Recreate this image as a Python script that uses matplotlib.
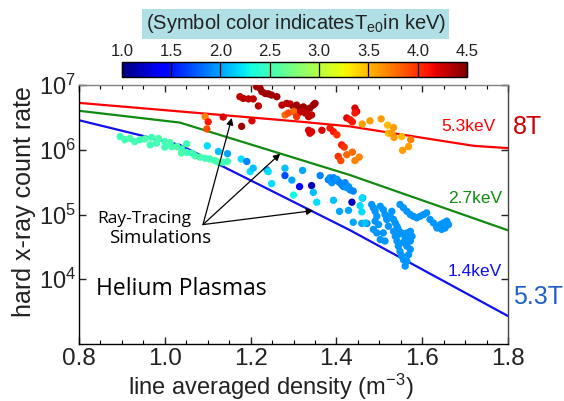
import numpy as np
import matplotlib
matplotlib.use("Agg")
import matplotlib.pyplot as plt
from matplotlib.ticker import MultipleLocator

plt.rcParams['font.family'] = ['Liberation Sans', 'DejaVu Sans']
plt.rcParams['mathtext.fontset'] = 'custom'
plt.rcParams['mathtext.rm'] = 'Liberation Sans'
plt.rcParams['mathtext.it'] = 'Liberation Sans:italic'

# ray-tracing simulation curves (density, count rate)
red_n = [0.8, 1.32, 1.43, 1.72, 1.8]
red_rate = [5.3e6, 2.7e6, 2.3e6, 1.15e6, 1.06e6]
green_n = [0.8, 1.035, 1.43, 1.8]
green_rate = [4.0e6, 2.63e6, 4.1e5, 5.7e4]
blue_n = [0.8, 1.035, 1.43, 1.8]
blue_rate = [2.86e6, 1.19e6, 5.8e4, 2.7e3]

# measured points: teal group (low density)
teal_n = [0.896, 0.907, 0.919, 0.93, 0.942, 0.954, 0.966, 0.969, 0.985, 0.981,
          1.0, 1.012, 1.0, 1.016, 1.028, 1.039, 1.051, 1.039, 1.051, 1.063,
          1.07, 1.082, 1.094, 1.105, 1.117, 1.125, 1.136, 1.146]
teal_rate = [1.6e6, 1.43e6, 1.5e6, 1.33e6, 1.43e6, 1.47e6, 1.19e6, 1.55e6, 1.5e6, 1.27e6,
             1.34e6, 1.29e6, 1.1e6, 1.12e6, 1.12e6, 1.03e6, 1.24e6, 8.9e5, 9.1e5, 8.9e5,
             8.1e5, 7.7e5, 7.4e5, 7.2e5, 6.8e5, 6.4e5, 6.4e5, 6.6e5]
teal_te = [2.5, 2.5, 2.55, 2.5, 2.5, 2.55, 2.5, 2.5, 2.55, 2.5,
           2.5, 2.55, 2.5, 2.5, 2.55, 2.5, 2.5, 2.55, 2.5, 2.5,
           2.5, 2.55, 2.5, 2.5, 2.5, 2.55, 2.5, 2.5]

# hot group (dark red)
hot_n = [1.175, 1.183, 1.195, 1.206, 1.218, 1.214, 1.222, 1.226, 1.234, 1.241,
         1.249, 1.261, 1.273, 1.284, 1.292, 1.3, 1.307, 1.315, 1.323, 1.331,
         1.338, 1.346, 1.35, 1.327, 1.335, 1.342, 1.319, 1.311]
hot_rate = [6.6e6, 6.2e6, 6.1e6, 6.1e6, 4.75e6, 9.4e6, 8.9e6, 7.9e6, 7.4e6, 7.3e6,
            7.0e6, 6.6e6, 4.9e6, 5.2e6, 5.1e6, 4.6e6, 4.9e6, 4.4e6, 4.6e6, 4.1e6,
            4.4e6, 4.9e6, 5.2e6, 3.7e6, 3.25e6, 3.45e6, 3.9e6, 3.7e6]
hot_te = [4.3, 4.3, 4.3, 4.3, 4.3, 4.4, 4.4, 4.4, 4.4, 4.4,
          4.4, 4.4, 4.3, 4.3, 4.3, 4.4, 4.4, 4.4, 4.4, 4.4,
          4.4, 4.4, 4.4, 4.3, 4.3, 4.3, 4.3, 4.3]

# warm group (red / orange)
warm_n = [1.094, 1.101, 1.136, 1.179, 1.203, 1.098, 1.28, 1.288, 1.3, 1.307,
          1.335, 1.338, 1.342, 1.366, 1.385, 1.393, 1.401, 1.404,
          1.443, 1.447, 1.443, 1.424, 1.432, 1.437, 1.412, 1.418, 1.41, 1.424,
          1.437, 1.443, 1.453,
          1.46, 1.478, 1.504, 1.519, 1.533, 1.521, 1.534, 1.552, 1.573, 1.568,
          1.554, 1.529]
warm_rate = [3.25e6, 2.7e6, 3.2e6, 2.3e6, 2.8e6, 2.1e6, 3.45e6, 3.7e6, 3.9e6, 3.25e6,
             2.0e6, 1.8e6, 1.9e6, 2.0e6, 2.16e6, 1.9e6, 1.7e6, 7.9e5,
             4.4e6, 3.9e6, 3.7e6, 3.1e6, 2.9e6, 2.7e6, 1.19e6, 1.1e6, 6.8e5, 8.4e5,
             9.2e5, 6.8e5, 7.7e5,
             2.5e6, 2.8e6, 3.0e6, 2.4e6, 2.2e6, 1.8e6, 1.55e6, 1.6e6, 1.43e6, 1.12e6,
             9.8e5, 1.8e6]
warm_te = [3.7, 4.1, 4.2, 4.4, 4.2, 3.9, 3.8, 3.9, 3.8, 4.0,
           4.2, 4.2, 4.2, 4.2, 4.1, 4.1, 4.0, 4.0,
           4.2, 4.2, 4.1, 4.2, 4.1, 4.1, 4.1, 4.0, 3.9, 3.8,
           3.8, 3.7, 3.7,
           3.6, 3.6, 3.6, 3.5, 3.6, 3.5, 3.6, 3.5, 3.7, 3.6,
           3.6, 3.6]

# cool group (cyan / blue scattered)
cool_n = [1.099, 1.125, 1.146, 1.178, 1.191, 1.199, 1.206, 1.238, 1.241, 1.28,
          1.28, 1.296, 1.321, 1.314, 1.342, 1.346, 1.362, 1.249, 1.3, 1.354,
          1.393, 1.407, 1.428, 1.436, 1.455, 1.439, 1.459, 1.471, 1.461,
          1.381, 1.389, 1.397, 1.404, 1.412, 1.42, 1.428, 1.432, 1.439, 1.385,
          1.393, 1.401, 1.408, 1.416, 1.424]
cool_rate = [1.15e6, 9.4e5, 8.7e5, 7.2e5, 6.6e5, 4.6e5, 5.2e5, 4.9e5, 4.6e5, 5.2e5,
             4.0e5, 3.4e5, 4.8e5, 2.7e5, 2.8e5, 2.2e5, 4.0e5, 3.0e5, 2.0e5, 1.55e5,
             1.66e5, 1.12e5, 1.16e5, 1.55e5, 1.37e5, 7.6e4, 7.3e4, 7.3e4, 1.8e5,
             3.45e5, 3.1e5, 3.4e5, 3.25e5, 2.9e5, 3.1e5, 2.7e5, 2.4e5, 2.3e5, 3.7e5,
             3.7e5, 3.5e5, 3.1e5, 2.7e5, 2.6e5]
cool_te = [2.2, 2.1, 2.0, 2.2, 1.9, 2.2, 2.1, 2.0, 2.2, 2.1,
           1.7, 2.0, 2.0, 1.4, 1.2, 2.1, 1.9, 2.2, 2.3, 2.2,
           2.1, 2.0, 2.0, 1.2, 2.2, 2.0, 2.0, 1.9, 1.8,
           1.9, 1.95, 1.9, 1.95, 1.9, 1.9, 1.95, 1.9, 1.9, 1.95,
           1.9, 1.95, 1.9, 1.9, 1.95]

# dense group (high density)
dense_n = [1.482, 1.486, 1.49, 1.494, 1.49, 1.498, 1.486, 1.494, 1.502, 1.509,
           1.513, 1.517, 1.525, 1.529, 1.533, 1.537, 1.541, 1.544, 1.533, 1.537,
           1.541, 1.544, 1.548, 1.552, 1.556, 1.56, 1.564, 1.568, 1.572, 1.564,
           1.556, 1.56, 1.564, 1.572, 1.576, 1.572, 1.548, 1.556, 1.564, 1.572,
           1.579, 1.587, 1.595, 1.603, 1.61, 1.618, 1.626, 1.634, 1.642, 1.649,
           1.657, 1.661, 1.653, 1.645, 1.634, 1.552, 1.544, 1.521, 1.509, 1.502,
           1.513, 1.46, 1.459, 1.467]
dense_rate = [1.43e5, 1.27e5, 1.12e5, 9.4e4, 7.9e4, 7.0e4, 5.9e4, 5.2e4, 1.34e5, 1.19e5,
              1.0e5, 8.4e4, 9.4e4, 1.12e5, 8.4e4, 7.4e4, 6.6e4, 5.9e4, 5.5e4, 4.6e4,
              3.9e4, 3.25e4, 2.7e4, 2.3e4, 2.0e4, 1.6e4, 1.9e4, 2.4e4, 2.9e4, 3.25e4,
              3.7e4, 4.4e4, 5.2e4, 5.5e4, 4.6e4, 3.9e4, 1.43e5, 1.27e5, 1.12e5, 1.0e5,
              9.4e4, 8.9e4, 9.4e4, 1.0e5, 1.06e5, 8.4e4, 7.4e4, 6.6e4, 7.0e4, 7.4e4,
              7.9e4, 7.0e4, 6.2e4, 5.9e4, 6.2e4, 5.2e4, 4.9e4, 6.6e4, 5.2e4, 4.1e4,
              3.9e4, 1.8e5, 1.1e5, 7.4e4]
dense_te = [1.95] * 61 + [2.2, 2.2, 2.1]

cbar_ticks = [1.0, 1.5, 2.0, 2.5, 3.0, 3.5, 4.0, 4.5]

fig = plt.figure(figsize=(5.64, 4.01), dpi=100)
ax = fig.add_axes([0.140, 0.142, 0.761, 0.646])

ax.plot(red_n, red_rate, color='#ff0000', lw=1.6)
ax.plot(green_n, green_rate, color='#108a10', lw=1.6)
ax.plot(blue_n, blue_rate, color='#1010ee', lw=1.6)

all_n = teal_n + hot_n + warm_n + cool_n + dense_n
all_rate = teal_rate + hot_rate + warm_rate + cool_rate + dense_rate
all_te = teal_te + hot_te + warm_te + cool_te + dense_te
sc = ax.scatter(all_n, all_rate, c=all_te, cmap='jet', vmin=1.0, vmax=4.5,
                s=28, edgecolors='none', zorder=3)

ax.set_yscale('log')
ax.set_xlim(0.8, 1.8)
ax.set_ylim(1e3, 1e7)
ax.set_yticks([1e4, 1e5, 1e6, 1e7])
ax.minorticks_off()
ax.set_xticks(np.arange(0.8, 1.81, 0.2))
ax.set_xticklabels(['0.8', '1.0', '1.2', '1.4', '1.6', '1.8'])
ax.xaxis.set_minor_locator(MultipleLocator(0.05))
ax.tick_params(which='both', direction='in', top=True, right=True)
ax.tick_params(which='major', length=5, width=1)
ax.tick_params(which='minor', length=3, width=0.8)
ax.tick_params(axis='x', labelsize=17.5, colors='#222222', pad=3)
ax.tick_params(axis='y', labelsize=17, colors='#222222', pad=2)
for sp in ax.spines.values():
    sp.set_linewidth(1)
ax.spines['top'].set_color('#808080')
ax.spines['right'].set_color('#444444')

ax.set_xlabel('line averaged density (m$^{-3}$)', fontsize=17, color='#222222')
ax.set_ylabel('hard x-ray count rate', fontsize=18, color='#222222')
ax.xaxis.set_label_coords(0.448, -0.108)
ax.yaxis.set_label_coords(-0.1, 0.552)

ax.text(1.770, 2.26e6, '5.3keV', color='#ff0000', fontsize=12.5, ha='right', va='center')
ax.text(1.786, 1.8e5, '2.7keV', color='#108a10', fontsize=12.5, ha='right', va='center')
ax.text(1.786, 1.33e4, '1.4keV', color='#1010ee', fontsize=12.5, ha='right', va='center')
ax.text(1.012, 0.836, '8T', color='#cc0000', fontsize=18, transform=ax.transAxes,
        ha='left', va='center')
ax.text(1.012, 0.181, '5.3T', color='#1f5fc8', fontsize=18, transform=ax.transAxes,
        ha='left', va='center')
ax.text(0.84, 7e3, 'Helium Plasmas', fontsize=16.5, color='black', ha='left', va='center',
        family=['Open Sans', 'DejaVu Sans'])
ax.text(0.842, 8.6e4, 'Ray-Tracing', fontsize=12.5, color='black', ha='left', va='center',
        family=['Open Sans', 'DejaVu Sans'])
ax.text(0.87, 4.4e4, 'Simulations', fontsize=13.5, color='black', ha='left', va='center',
        family=['Open Sans', 'DejaVu Sans'])

arrow_from = (1.089, 7.0e4)
for tip in [(1.156, 3.1e6), (1.269, 8.7e5), (1.346, 1.15e5)]:
    ax.annotate('', xy=tip, xytext=arrow_from,
                arrowprops=dict(arrowstyle='-|>', color='black', lw=0.9,
                                mutation_scale=10, shrinkA=0, shrinkB=0))

cax = fig.add_axes([0.216, 0.808, 0.612, 0.037])
cb = fig.colorbar(sc, cax=cax, orientation='horizontal', ticks=cbar_ticks)
cb.outline.set_linewidth(1)
cb.outline.set_edgecolor('black')
cax.xaxis.set_ticks_position('top')
cax.xaxis.set_label_position('top')
cax.set_xticklabels(['%.1f' % t for t in cbar_ticks])
cax.tick_params(direction='in', length=11, width=0.9, color='black',
                labelsize=12, pad=2)
cax.tick_params(labelcolor='#222222')

fig.text(0.524, 0.941, '(Symbol color indicatesT$_{\\rm e0}$in keV)', fontsize=14.5,
         ha='center', va='center', color='#222222',
         bbox=dict(facecolor='#b0e0e6', edgecolor='none', pad=2.5))

fig.savefig('out.png', dpi=100)
